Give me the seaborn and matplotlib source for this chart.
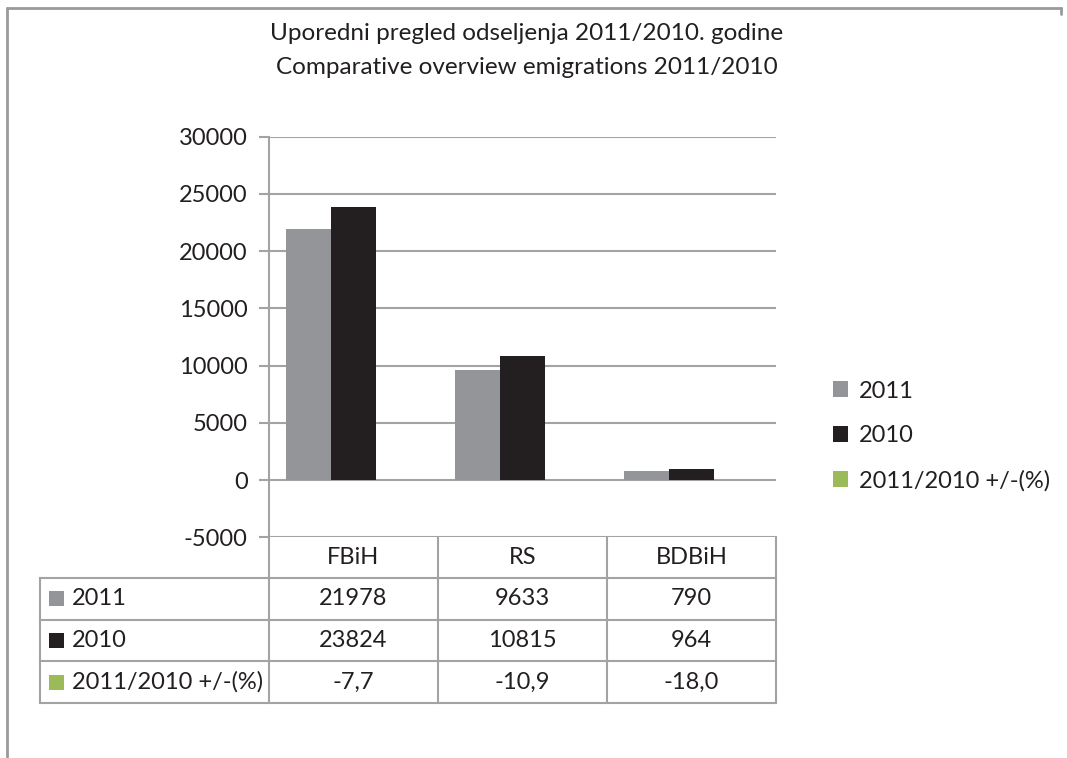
import numpy as np
import pandas as pd
import matplotlib.pyplot as plt
import seaborn as sns
from matplotlib.patches import Rectangle

# data
regions = ['FBiH', 'RS', 'BDBiH']
series = ['2011', '2010', '2011/2010 +/-(%)']
emig_2011 = [21978, 9633, 790]
emig_2010 = [23824, 10815, 964]
change_pct = [-7.7, -10.9, -18.0]
yticks = [-5000, 0, 5000, 10000, 15000, 20000, 25000, 30000]
colors = ['#939598', '#231f20', '#9bbb59']
title_lines = ['Uporedni pregled odseljenja 2011/2010. godine',
               'Comparative overview emigrations 2011/2010']

df = pd.DataFrame({
    'region': regions * 3,
    'series': np.repeat(series, len(regions)),
    'value': emig_2011 + emig_2010 + change_pct,
})

sns.set_style('white')
plt.rcParams['font.family'] = ['Lato', 'DejaVu Sans']
plt.rcParams['axes.unicode_minus'] = False
grid_c = '#a3a3a3'
txt_c = '#231f20'
fs = 17
W, H = 1067, 758

fig = plt.figure(figsize=(W / 100, H / 100), dpi=100)
x0, x1, y_top, y_bot = 268.7, 776, 136.7, 537.3
ax = fig.add_axes([x0 / W, 1 - y_bot / H, (x1 - x0) / W, (y_bot - y_top) / H])

sns.barplot(data=df, x='region', y='value', hue='series',
            palette=dict(zip(series, colors)), saturation=1, width=0.8,
            linewidth=0, ax=ax)

ax.set_ylim(-5000, 30000)
ax.set_yticks(yticks)
ax.set_yticklabels([str(t) for t in yticks])
ax.set_xticks([])
ax.set_xlabel('')
ax.set_ylabel('')
ax.yaxis.grid(True, color=grid_c, lw=1.5)
ax.set_axisbelow(True)
for s in ['top', 'right', 'bottom']:
    ax.spines[s].set_visible(False)
ax.spines['left'].set_color(grid_c)
ax.spines['left'].set_linewidth(1.5)
ax.tick_params(axis='y', length=7, width=1.5, color=grid_c, labelsize=fs,
               labelcolor=txt_c, pad=8, left=True)

ax.legend(loc='center left', bbox_to_anchor=(833 / W, 1 - 436 / H),
          bbox_transform=fig.transFigure, frameon=False, fontsize=fs,
          handlelength=0.65, handleheight=0.65, handletextpad=0.45,
          labelspacing=1.0, borderpad=0, borderaxespad=0, labelcolor=txt_c)

for line, yp in zip(title_lines, [33, 68]):
    fig.text(527 / W, 1 - yp / H, line, ha='center', va='center',
             fontsize=17.5, color=txt_c)

# overlay in pixel coordinates for data table and frame
ov = fig.add_axes([0, 0, 1, 1], zorder=-1)
ov.set_xlim(0, W)
ov.set_ylim(H, 0)
ov.axis('off')

cw = (x1 - x0) / len(regions)
col_edges = [x0 + i * cw for i in range(len(regions) + 1)]
tab_left = 40
row_edges = [537.3, 578, 619.5, 661, 703]
lk = dict(color=grid_c, lw=1.5, solid_capstyle='projecting')

for xe in col_edges:
    ov.plot([xe, xe], [row_edges[0], row_edges[-1]], **lk)
for ye in row_edges[1:]:
    ov.plot([tab_left, x1], [ye, ye], **lk)
ov.plot([tab_left, tab_left], [row_edges[1], row_edges[-1]], **lk)
for i, r in enumerate(regions):
    ov.text(x0 + (i + 0.5) * cw, (row_edges[0] + row_edges[1]) / 2, r,
            ha='center', va='center', fontsize=fs, color=txt_c)

rows = [emig_2011, emig_2010,
        [f'{v:.1f}'.replace('.', ',') for v in change_pct]]
for j, (name, vals, c) in enumerate(zip(series, rows, colors)):
    yc = (row_edges[j + 1] + row_edges[j + 2]) / 2
    ov.add_patch(Rectangle((49, yc - 7.5), 15, 15, color=c, lw=0))
    ov.text(72, yc, name, ha='left', va='center', fontsize=fs, color=txt_c)
    for i, v in enumerate(vals):
        ov.text(x0 + (i + 0.5) * cw, yc, str(v), ha='center', va='center',
                fontsize=fs, color=txt_c)

# chart frame
ov.plot([7, 7], [8, H], color='#9a9a9a', lw=2)
ov.plot([7, 1061], [8, 8], color='#9a9a9a', lw=2)
ov.plot([1061, 1061], [8, 14], color='#9a9a9a', lw=2)

fig.savefig('out.png', dpi=100)
